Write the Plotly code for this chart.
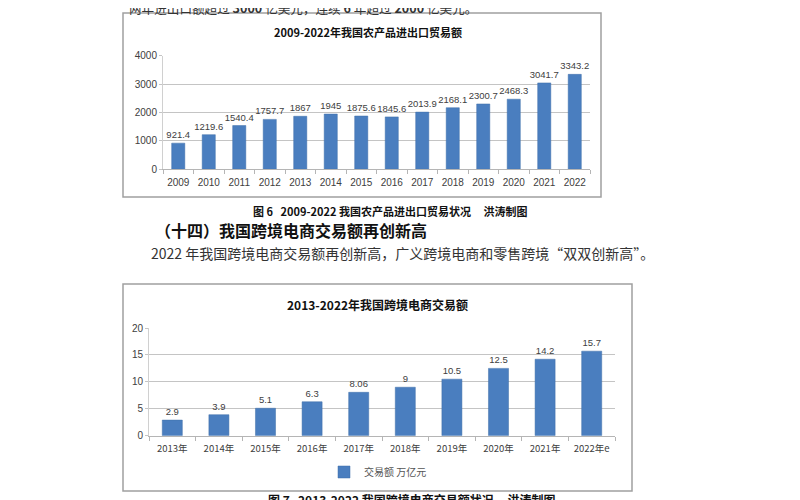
import plotly.graph_objects as go

# chart 1: agricultural import/export trade, 2009-2022
years_trade = ["2009", "2010", "2011", "2012", "2013", "2014", "2015",
               "2016", "2017", "2018", "2019", "2020", "2021", "2022"]
trade_value = [921.4, 1219.6, 1540.4, 1757.7, 1867, 1945, 1875.6,
               1845.6, 2013.9, 2168.1, 2300.7, 2468.3, 3041.7, 3343.2]

# chart 2: cross-border e-commerce, 2013-2022
years_ecom = ["2013年", "2014年", "2015年", "2016年", "2017年",
              "2018年", "2019年", "2020年", "2021年", "2022年e"]
ecom_value = [2.9, 3.9, 5.1, 6.3, 8.06, 9, 10.5, 12.5, 14.2, 15.7]

W, H = 800, 500
OFF = 8  # page body margin around the figure
BLUE = "#4a7ebf"
CJK = "Noto Sans CJK SC"
NUM = "Liberation Sans, Noto Sans CJK SC"


def px(x):
    # page pixel -> paper fraction
    return (x - OFF) / W


def py(y):
    return 1 - (y - OFF) / H


fig = go.Figure()

fig.add_trace(go.Bar(
    x=years_trade, y=trade_value, xaxis="x", yaxis="y",
    marker=dict(color=BLUE, line=dict(color="#3f6fa8", width=0.5)),
    text=[f"{v:g}" for v in trade_value], texttemplate="%{text}",
    textposition="outside", constraintext="none", cliponaxis=False,
    textfont=dict(family=NUM, size=9.5, color="#404040"),
    showlegend=False,
))

fig.add_trace(go.Bar(
    x=years_ecom, y=ecom_value, xaxis="x2", yaxis="y2",
    name="交易额 万亿元",
    marker=dict(color=BLUE, line=dict(color="#3f6fa8", width=0.5)),
    text=[f"{v:g}" for v in ecom_value], texttemplate="%{text}",
    textposition="outside", constraintext="none", cliponaxis=False,
    textfont=dict(family=NUM, size=9.5, color="#404040"),
    showlegend=True,
))

cat_axis = dict(
    type="category", showgrid=False, showline=True, linecolor="#b5b5b5",
    ticks="outside", tickson="boundaries", ticklen=4, tickcolor="#b5b5b5",
    ticklabelstandoff=4, tickangle=0, fixedrange=True, automargin=False,
)
val_axis = dict(
    showgrid=True, gridcolor="#c4c4c4", gridwidth=1, zeroline=False,
    showline=True, linecolor="#d0d0d0", ticks="outside", ticklen=3,
    tickcolor="#c4c4c4", tickfont=dict(family=NUM, size=10, color="#404040"),
    fixedrange=True, automargin=False,
)

fig.update_layout(
    width=W, height=H, autosize=False,
    margin=dict(l=0, r=0, t=0, b=0, pad=0, autoexpand=False),
    paper_bgcolor="white", plot_bgcolor="white",
    bargap=0.57,
    xaxis=dict(cat_axis, domain=[px(163), px(590)], anchor="y",
               tickfont=dict(family=NUM, size=10, color="#404040")),
    yaxis=dict(val_axis, domain=[py(169.3), py(55.7)], range=[0, 4000],
               dtick=1000, anchor="x"),
    xaxis2=dict(cat_axis, domain=[px(149), px(615)], anchor="y2",
                tickfont=dict(family=CJK, size=9.5, color="#404040")),
    yaxis2=dict(val_axis, domain=[py(435.7), py(328)], range=[0, 20],
                dtick=5, anchor="x2"),
    legend=dict(x=px(324), y=py(472), xanchor="left", yanchor="middle",
                bgcolor="rgba(0,0,0,0)", itemwidth=30,
                font=dict(family=CJK, size=10, color="#555555")),
)

# chart frames
for x0, y0, x1, y1 in [(123, 13, 601, 197), (123, 284, 632, 491)]:
    fig.add_shape(type="rect", xref="paper", yref="paper",
                  x0=px(x0), x1=px(x1), y0=py(y1), y1=py(y0),
                  line=dict(color="#a0a0a0", width=1.5), fillcolor="rgba(0,0,0,0)")


def note(text, x, y, size, xanchor="center", color="#111111"):
    fig.add_annotation(text=text, x=px(x), y=py(y), xref="paper", yref="paper",
                       xanchor=xanchor, yanchor="middle", showarrow=False,
                       font=dict(family=CJK, size=size, color=color))


note("两年进出口额超过 <b>3000</b> 亿美元，连续 <b>6</b> 年超过 <b>2000</b> 亿美元。",
     127, 7, 12.6, xanchor="left", color="#333333")
note("<b>2009-2022年我国农产品进出口贸易额</b>", 368, 32, 11)
note("<b>图 6   2009-2022 我国农产品进出口贸易状况     洪涛制图</b>", 390, 211, 11)
note("<b>（十四）我国跨境电商交易额再创新高</b>", 153, 230, 16, xanchor="left")
note("2022 年我国跨境电商交易额再创新高，广义跨境电商和零售跨境“双双创新高”。",
     149, 253, 14, xanchor="left", color="#333333")
note("<b>2013-2022年我国跨境电商交易额</b>", 377, 304, 12)
note("<b>图 7   2013-2022 我国跨境电商交易额状况     洪涛制图</b>", 411, 499, 12)

fig.write_html("out.html")
